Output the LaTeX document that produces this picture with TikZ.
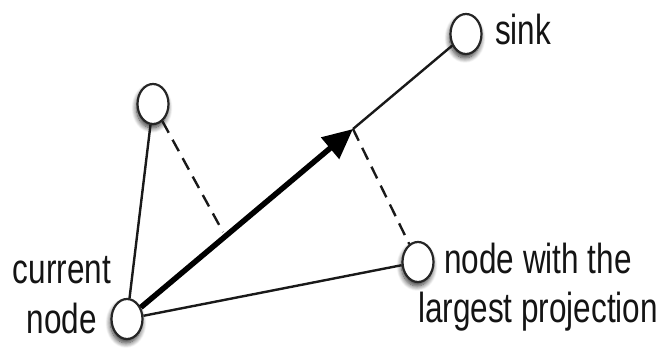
\documentclass[tikz,border=0pt]{standalone}
\usepackage{fontspec}
\setmainfont[FakeStretch=0.75]{Liberation Sans}
\usetikzlibrary{shapes.geometric,arrows.meta,shadows.blur}
\begin{document}
\begin{tikzpicture}[x=1pt,y=1pt,
  vert/.style={ellipse,draw=black!85,line width=2.2pt,fill=white,
    minimum width=31pt,minimum height=40pt,inner sep=0pt,
    blur shadow={shadow xshift=-1pt,shadow yshift=-4pt,shadow blur steps=10,shadow blur radius=5pt,shadow opacity=80}},
  edge/.style={line width=2.4pt,black!90},
  proj/.style={line width=2.4pt,black!90,dash pattern=on 13pt off 8pt},
  main/.style={line width=5.5pt,black,-{Triangle[length=30pt,width=27pt]}},
  lab/.style={font=\fontsize{42}{50}\selectfont,text=black!92,inner sep=0pt,align=center}]
\useasboundingbox (0,0) rectangle (661,351);
\node[vert] (cur) at (127,32) {};
\node[vert] (tl) at (153,247) {};
\node[vert] (sink) at (466,317) {};
\node[vert] (rn) at (418,89) {};
\coordinate (P) at (353,222);
\coordinate (Q) at (223,119);
\draw[edge] (cur) -- (tl);
\draw[edge] (cur) -- (rn);
\draw[edge] (P) -- (sink);
\draw[proj] (tl) -- (Q);
\draw[proj] (P) -- (rn);
\draw[main] (cur) -- (P);
\node[lab,anchor=base] (tcur) at (62,18) {current\\node};
\node[lab,anchor=base west] (tsink) at (495,306) {sink};
\node[lab,anchor=base] (trn) at (538,28) {node with the\\largest projection};
\end{tikzpicture}
\end{document}
